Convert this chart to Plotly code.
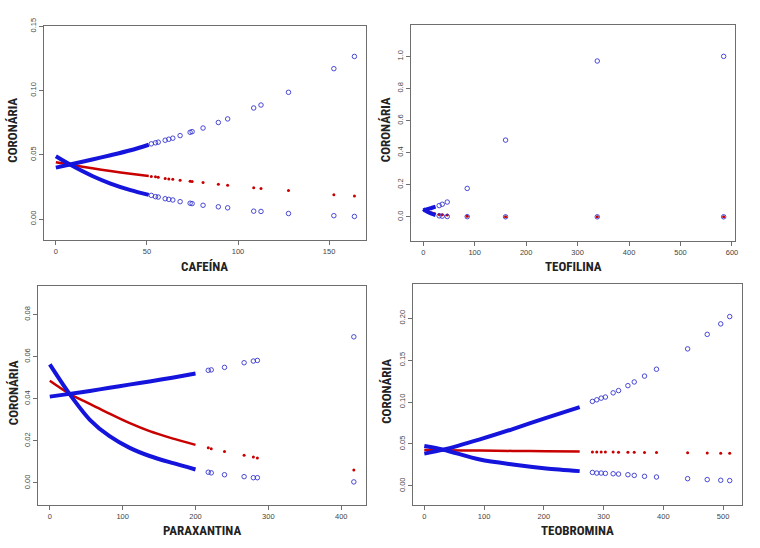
import plotly.graph_objects as go

# ---------------- DATA ----------------
# Panel 1: CAFEÍNA
caf_x_dense = [0, 9, 20, 30, 41, 51]
caf_up_dense = [0.0400, 0.0428, 0.0463, 0.0496, 0.0535, 0.0578]
caf_lo_dense = [0.0488, 0.0414, 0.0335, 0.0276, 0.0225, 0.0188]
caf_est_dense = [0.0442, 0.0420, 0.0395, 0.0373, 0.0352, 0.0334]
caf_x = [52.4, 54.7, 56.2, 60.0, 62.0, 64.2, 68.2, 73.7, 74.8, 80.8, 89.2, 94.3, 108.6, 112.6, 127.7, 152.6, 163.9]
caf_up = [0.0585, 0.0593, 0.0598, 0.0613, 0.0621, 0.0629, 0.0649, 0.0675, 0.0680, 0.0708, 0.0751, 0.0779, 0.0864, 0.0887, 0.0986, 0.1170, 0.1265]
caf_lo = [0.0184, 0.0174, 0.0171, 0.0158, 0.0153, 0.0148, 0.0135, 0.0123, 0.0120, 0.0107, 0.0095, 0.0087, 0.0061, 0.0059, 0.0043, 0.0026, 0.0020]
caf_est = [0.0330, 0.0328, 0.0325, 0.0316, 0.0312, 0.0309, 0.0302, 0.0293, 0.0291, 0.0284, 0.0271, 0.0263, 0.0243, 0.0238, 0.0222, 0.0189, 0.0179]

# Panel 2: TEOFILINA
teo_x_dense = [0, 8, 16, 24]
teo_up_dense = [0.040, 0.047, 0.055, 0.063]
teo_lo_dense = [0.048, 0.032, 0.020, 0.011]
teo_est_dense = [0.044, 0.035, 0.026, 0.019]
teo_x = [31, 37, 46.7, 85.5, 160, 338.2, 583.8]
teo_up = [0.070, 0.078, 0.092, 0.177, 0.478, 0.971, 1.000]
teo_lo = [0.006, 0.004, 0.002, 0.001, 0.000, 0.000, 0.000]
teo_est = [0.015, 0.013, 0.012, 0.004, 0.001, 0.000, 0.000]

# Panel 3: PARAXANTINA
par_x_dense = [0, 27, 55, 82, 109, 137, 168, 200]
par_up_dense = [0.0410, 0.0423, 0.0437, 0.0452, 0.0467, 0.0482, 0.0500, 0.0520]
par_lo_dense = [0.0563, 0.0423, 0.0300, 0.0222, 0.0168, 0.0128, 0.0095, 0.0064]
par_est_dense = [0.0485, 0.0423, 0.0376, 0.0329, 0.0285, 0.0246, 0.0212, 0.0181]
par_x = [217.5, 221.6, 239.8, 266.7, 279.4, 284.9, 417.3]
par_up = [0.0535, 0.0537, 0.0549, 0.0571, 0.0579, 0.0582, 0.0694]
par_lo = [0.0051, 0.0048, 0.0039, 0.0030, 0.0025, 0.0025, 0.0005]
par_est = [0.0167, 0.0163, 0.0149, 0.0132, 0.0123, 0.0118, 0.0061]

# Panel 4: TEOBROMINA
tbr_x_dense = [0, 32, 93, 148, 204, 260]
tbr_up_dense = [0.0385, 0.0432, 0.0555, 0.0678, 0.0812, 0.0940]
tbr_lo_dense = [0.0475, 0.0431, 0.0314, 0.0255, 0.0208, 0.0176]
tbr_est_dense = [0.0428, 0.0425, 0.0421, 0.0417, 0.0413, 0.0409]
tbr_x = [281.3, 288.6, 296, 303, 316, 325, 340.7, 351.3, 368.5, 388.5, 440.6, 473.4, 496, 511]
tbr_up = [0.1008, 0.1027, 0.1047, 0.1060, 0.1110, 0.1137, 0.1196, 0.1240, 0.1310, 0.1392, 0.1635, 0.1808, 0.1933, 0.2020]
tbr_lo = [0.0160, 0.0153, 0.0153, 0.0149, 0.0145, 0.0141, 0.0133, 0.0125, 0.0114, 0.0106, 0.0086, 0.0075, 0.0067, 0.0063]
tbr_est = [0.0405, 0.0405, 0.0404, 0.0404, 0.0403, 0.0402, 0.0401, 0.0400, 0.0399, 0.0398, 0.0394, 0.0392, 0.0390, 0.0389]

x_titles = ["CAFEÍNA", "TEOFILINA", "PARAXANTINA", "TEOBROMINA"]
y_title = "CORONÁRIA"

# ---------------- FIGURE ----------------
BLUE = "#1414DC"
BLUE_PT = "#3535D0"
RED = "#C80000"
W, H = 760, 548

panels = [
    dict(xd=caf_x_dense, ud=caf_up_dense, ld=caf_lo_dense, ed=caf_est_dense,
         x=caf_x, u=caf_up, l=caf_lo, e=caf_est,
         box=(44, 367, 18, 235), xr=[-6.6, 170], yr=[-0.016, 0.1504],
         xt=[0, 50, 100, 150], yt=[0.00, 0.05, 0.10, 0.15], yf=".2f",
         xtitle_y=262, ytitle_x=13),
    dict(xd=teo_x_dense, ud=teo_up_dense, ld=teo_lo_dense, ed=teo_est_dense,
         x=teo_x, u=teo_up, l=teo_lo, e=teo_est,
         box=(413, 738, 17, 236), xr=[-23, 606], yr=[-0.148, 1.197],
         xt=[0, 100, 200, 300, 400, 500, 600], yt=[0.0, 0.2, 0.4, 0.6, 0.8, 1.0], yf=".1f",
         xtitle_y=262, ytitle_x=387),
    dict(xd=par_x_dense, ud=par_up_dense, ld=par_lo_dense, ed=par_est_dense,
         x=par_x, u=par_up, l=par_lo, e=par_est,
         box=(38, 367, 282, 504), xr=[-16.4, 433.4], yr=[-0.0103, 0.0936],
         xt=[0, 100, 200, 300, 400], yt=[0.00, 0.02, 0.04, 0.06, 0.08], yf=".2f",
         xtitle_y=530, ytitle_x=13),
    dict(xd=tbr_x_dense, ud=tbr_up_dense, ld=tbr_lo_dense, ed=tbr_est_dense,
         x=tbr_x, u=tbr_up, l=tbr_lo, e=tbr_est,
         box=(415, 745, 280, 504), xr=[-18.3, 531.7], yr=[-0.0224, 0.241],
         xt=[0, 100, 200, 300, 400, 500], yt=[0.00, 0.05, 0.10, 0.15, 0.20], yf=".2f",
         xtitle_y=530, ytitle_x=388),
]

fig = go.Figure()
layout = dict(width=W, height=H, margin=dict(l=0, r=0, t=0, b=0),
              paper_bgcolor="white", plot_bgcolor="white", showlegend=False)
annotations = []
TITLE_FONT = dict(family="Roboto Condensed, Liberation Sans Narrow, DejaVu Sans Condensed, Arial Narrow, sans-serif",
                  size=13, color="#222222")

for i, p in enumerate(panels):
    n = i + 1
    xa = "x" if n == 1 else f"x{n}"
    ya = "y" if n == 1 else f"y{n}"
    # dense regions (drawn as thick strokes)
    fig.add_trace(go.Scatter(x=p["xd"], y=p["ed"], mode="lines",
                             line=dict(color=RED, width=2.5, shape="spline", smoothing=0.8),
                             xaxis=xa, yaxis=ya, hoverinfo="skip"))
    fig.add_trace(go.Scatter(x=p["xd"], y=p["ud"], mode="lines",
                             line=dict(color=BLUE, width=4, shape="spline", smoothing=0.8),
                             xaxis=xa, yaxis=ya, hoverinfo="skip"))
    fig.add_trace(go.Scatter(x=p["xd"], y=p["ld"], mode="lines",
                             line=dict(color=BLUE, width=4, shape="spline", smoothing=0.8),
                             xaxis=xa, yaxis=ya, hoverinfo="skip"))
    # sparse points
    fig.add_trace(go.Scatter(x=p["x"], y=p["e"], mode="markers",
                             marker=dict(symbol="circle", size=3, color=RED, line=dict(width=0)),
                             xaxis=xa, yaxis=ya))
    fig.add_trace(go.Scatter(x=p["x"], y=p["u"], mode="markers",
                             marker=dict(symbol="circle-open", size=4.5, color=BLUE_PT, line=dict(width=0.9, color=BLUE_PT)),
                             xaxis=xa, yaxis=ya))
    fig.add_trace(go.Scatter(x=p["x"], y=p["l"], mode="markers",
                             marker=dict(symbol="circle-open", size=4.5, color=BLUE_PT, line=dict(width=0.9, color=BLUE_PT)),
                             xaxis=xa, yaxis=ya))

    x0, x1, y0, y1 = p["box"]
    axis_common = dict(showline=True, mirror=True, linecolor="#6e6e6e", linewidth=1.3,
                       ticks="outside", ticklen=4, tickcolor="#6e6e6e", tickwidth=1,
                       showgrid=False, zeroline=False,
                       tickfont=dict(family="Liberation Sans, Arial, sans-serif", size=7.5, color="#444444"))
    layout["xaxis" if n == 1 else f"xaxis{n}"] = dict(
        domain=[x0 / W, x1 / W], range=p["xr"], tickvals=p["xt"],
        anchor=ya, **axis_common)
    layout["yaxis" if n == 1 else f"yaxis{n}"] = dict(
        domain=[1 - y1 / H, 1 - y0 / H], range=p["yr"], tickvals=p["yt"], tickformat=p["yf"],
        tickangle=-90, anchor=xa, **axis_common)

    annotations.append(dict(text=f"<b>{x_titles[i]}</b>", x=(x0 + x1) / 2 / W, y=1 - p["xtitle_y"] / H,
                            xref="paper", yref="paper", showarrow=False, font=TITLE_FONT,
                            xanchor="center", yanchor="middle"))
    annotations.append(dict(text=f"<b>{y_title}</b>", x=p["ytitle_x"] / W, y=1 - ((y0 + y1) / 2 - 3) / H,
                            xref="paper", yref="paper", showarrow=False, font=TITLE_FONT, textangle=-90,
                            xanchor="center", yanchor="middle"))

layout["annotations"] = annotations
fig.update_layout(**layout)
fig.write_html("out.html")
